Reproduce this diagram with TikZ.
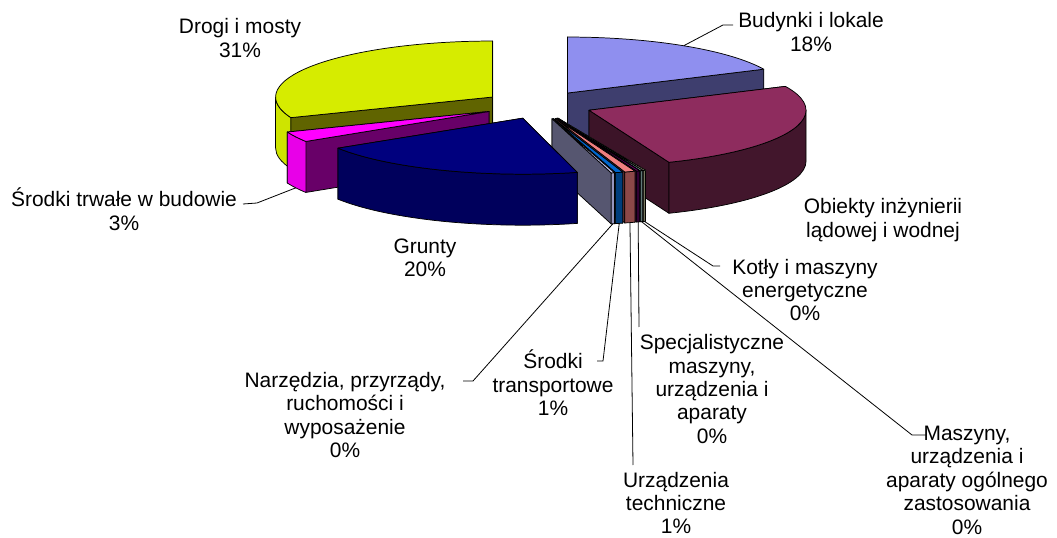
\documentclass[tikz,border=0pt]{standalone}
\usepackage{fontspec}
\setmainfont{Liberation Sans}
\usetikzlibrary{calc}

% pie geometry, measured in pixels of the chart
\newcommand{\pcx}{538}
\newcommand{\pcy}{-105}
\newcommand{\prb}{56}
\newcommand{\pdep}{51}
\newcommand{\pexp}{0.253}
\newcommand{\pra}{217}

\definecolor{budTop}{RGB}{143,143,239}
\definecolor{budSide}{RGB}{62,62,110}
\definecolor{obTop}{RGB}{142,44,94}
\definecolor{obSide}{RGB}{66,22,44}
\definecolor{obRad}{RGB}{60,20,40}
\definecolor{koTop}{RGB}{250,250,200}
\definecolor{koSide}{RGB}{120,120,96}
\definecolor{maTop}{RGB}{200,250,250}
\definecolor{maSide}{RGB}{96,120,120}
\definecolor{spTop}{RGB}{102,0,102}
\definecolor{spSide}{RGB}{50,0,50}
\definecolor{urTop}{RGB}{240,128,128}
\definecolor{urSide}{RGB}{140,72,72}
\definecolor{urRad}{RGB}{110,56,56}
\definecolor{trTop}{RGB}{0,102,204}
\definecolor{trSide}{RGB}{0,62,124}
\definecolor{trRad}{RGB}{0,50,100}
\definecolor{naTop}{RGB}{200,200,240}
\definecolor{naSide}{RGB}{150,150,190}
\definecolor{naRad}{RGB}{86,86,112}
\definecolor{grTop}{RGB}{0,0,126}
\definecolor{grSide}{RGB}{0,0,92}
\definecolor{bwTop}{RGB}{255,0,255}
\definecolor{bwSide}{RGB}{232,0,232}
\definecolor{bwRad}{RGB}{104,0,104}
\definecolor{drTop}{RGB}{214,236,0}
\definecolor{drSide}{RGB}{206,228,0}
\definecolor{drRad}{RGB}{96,100,0}

% #1,#2 start/end clockwise from 12 o'clock, #3 top, #4 side, #5 radial face, #6 name
\newcommand{\pieslice}[6]{%
  \pgfmathsetmacro\angLo{90-#2}%
  \pgfmathsetmacro\angHi{90-#1}%
  \pgfmathsetmacro\angMid{(\angLo+\angHi)/2}%
  \pgfmathsetmacro\apx{\pcx+\pexp*217*cos(\angMid)}%
  \pgfmathsetmacro\apy{\pcy+\pexp*\prb*sin(\angMid)}%
  \pgfmathsetmacro\frLo{max(\angLo,-180)}%
  \pgfmathsetmacro\frHi{min(\angHi,0)}%
  \coordinate (#6) at (\apx,\apy);
  \coordinate (#6-lo) at ($(#6)+({\pra*cos(\angLo)},{\prb*sin(\angLo)})$);
  \coordinate (#6-hi) at ($(#6)+({\pra*cos(\angHi)},{\prb*sin(\angHi)})$);
  \coordinate (#6-top) at ($(#6)+({\pra*cos(\angMid)},{\prb*sin(\angMid)})$);
  \coordinate (#6-mid) at ($(#6-top)+(0,-\pdep)$);
  \pgfmathparse{cos(\angLo)>0 ? 1 : 0}%
  \ifnum\pgfmathresult=1
    \draw[face,fill=#5] (#6) -- (#6-hi) -- ++(0,-\pdep) -- ($(#6)+(0,-\pdep)$) -- cycle;
    \draw[face,fill=#5] (#6) -- (#6-lo) -- ++(0,-\pdep) -- ($(#6)+(0,-\pdep)$) -- cycle;
  \else
    \draw[face,fill=#5] (#6) -- (#6-lo) -- ++(0,-\pdep) -- ($(#6)+(0,-\pdep)$) -- cycle;
    \draw[face,fill=#5] (#6) -- (#6-hi) -- ++(0,-\pdep) -- ($(#6)+(0,-\pdep)$) -- cycle;
  \fi
  \ifdim\frLo pt<\frHi pt
    \draw[face,fill=#4] ($(#6)+({\pra*cos(\frLo)},{\prb*sin(\frLo)})$)
      arc[start angle=\frLo, end angle=\frHi, x radius=\pra, y radius=\prb]
      -- ++(0,-\pdep)
      arc[start angle=\frHi, end angle=\frLo, x radius=\pra, y radius=\prb] -- cycle;
  \fi
  \draw[face,fill=#3] (#6) -- (#6-lo)
    arc[start angle=\angLo, end angle=\angHi, x radius=\pra, y radius=\prb] -- cycle;
}

\begin{document}
\begin{tikzpicture}[x=0.75pt,y=0.75pt,
    face/.style={draw=black,line width=0.55pt,line join=round},
    leader/.style={draw=black,line width=0.6pt},
    lbl/.style={align=center,inner sep=0pt,font=\fontsize{15.7}{17.6}\selectfont}]
  \useasboundingbox (0,0) rectangle (1057,-538);

  % slices, back to front
  \pieslice{0}{64.8}{budTop}{budSide}{budSide}{budynki}
  \pieslice{248.4}{360}{drTop}{drSide}{drRad}{drogi}
  \pieslice{237.6}{248.4}{bwTop}{bwSide}{bwRad}{budowa}
  \pieslice{64.8}{158.4}{obTop}{obSide}{obRad}{obiekty}
  \renewcommand{\pra}{238}
  \pieslice{158.4}{159.0}{koTop}{koSide}{koSide}{kotly}
  \pieslice{159.0}{159.6}{maTop}{maSide}{maSide}{maszyny}
  \pieslice{159.6}{160.4}{spTop}{spSide}{spSide}{spec}
  \pieslice{160.4}{163.0}{urTop}{urSide}{urRad}{urz}
  \pieslice{163.0}{164.8}{trTop}{trSide}{trRad}{transp}
  \pieslice{164.8}{165.6}{naTop}{naSide}{naRad}{narz}
  \renewcommand{\pra}{219}
  \renewcommand{\pcx}{543}
  \pieslice{165.6}{237.6}{grTop}{grSide}{grSide}{grunty}

  % labels
  \node[lbl] (lblDrogi) at (240,-38) {Drogi i mosty\\31\%};
  \node[lbl] (lblBudynki) at (811,-32) {Budynki i lokale\\18\%};
  \node[lbl] (lblObiekty) at (883,-220) {Obiekty inżynierii\\lądowej i wodnej};
  \node[lbl] (lblKotly) at (805,-290) {Kotły i maszyny\\energetyczne\\0\%};
  \node[lbl] (lblMaszyny) at (967,-480) {Maszyny,\\urządzenia i\\aparaty ogólnego\\zastosowania\\0\%};
  \node[lbl] (lblSpec) at (712,-389) {Specjalistyczne\\maszyny,\\urządzenia i\\aparaty\\0\%};
  \node[lbl] (lblUrz) at (676,-503) {Urządzenia\\techniczne\\1\%};
  \node[lbl] (lblTransp) at (553,-383) {Środki\\transportowe\\1\%};
  \node[lbl] (lblNarz) at (345,-415) {Narzędzia, przyrządy,\\ruchomości i\\wyposażenie\\0\%};
  \node[lbl] (lblGrunty) at (425,-258) {Grunty\\20\%};
  \node[lbl] (lblBudowa) at (124,-209) {Środki trwałe w budowie\\3\%};

  % leader lines
  \coordinate (budynkiEnd) at (733,-25);
  \coordinate (budowaEnd) at (243,-204);
  \coordinate (kotlyEnd) at (720,-266);
  \coordinate (maszynyEnd) at (926,-435);
  \coordinate (specEnd) at (639,-327);
  \coordinate (urzEnd) at (633,-465);
  \coordinate (transpEnd) at (597,-361);
  \coordinate (narzEnd) at (463,-381);
  \draw[leader] (budynki-top) -- (723,-25) -- (budynkiEnd);
  \draw[leader] (budowa-mid) -- (257,-203) -- (budowaEnd);
  \draw[leader] (kotly-mid) -- (713,-266) -- (kotlyEnd);
  \draw[leader] (maszyny-mid) -- (912,-435) -- (maszynyEnd);
  \draw[leader] (spec-mid) -- (specEnd);
  \draw[leader] (urz-mid) -- (urzEnd);
  \draw[leader] (transp-mid) -- (603,-361) -- (transpEnd);
  \draw[leader] (narz-mid) -- (473,-381) -- (narzEnd);
\end{tikzpicture}
\end{document}
